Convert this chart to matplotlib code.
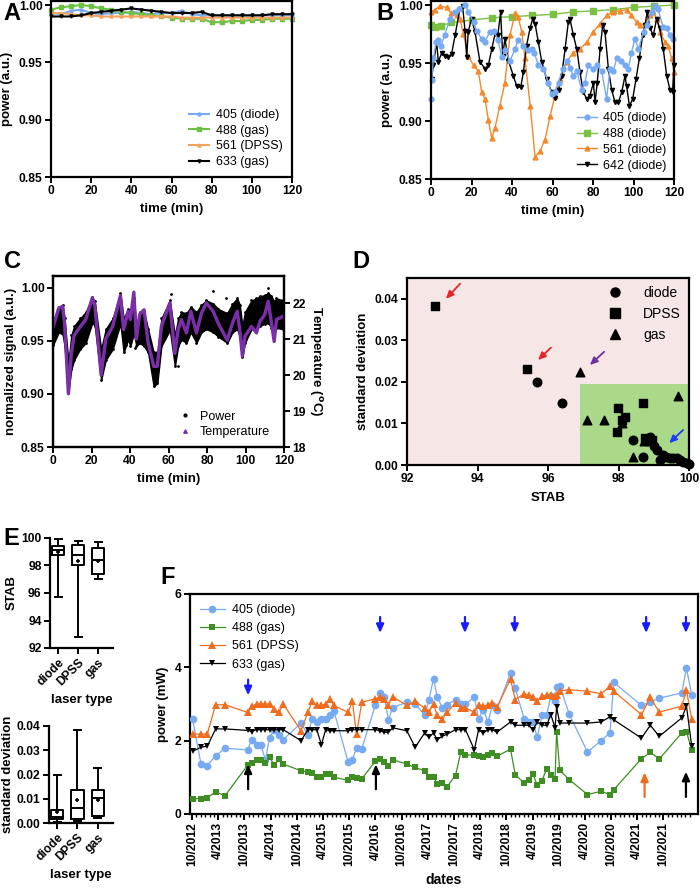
import matplotlib
matplotlib.use("Agg")
import matplotlib.pyplot as plt
from matplotlib.lines import Line2D
from matplotlib.patches import Rectangle
from matplotlib.ticker import FormatStrFormatter, FixedLocator

plt.rcParams['font.family'] = ['Liberation Sans', 'DejaVu Sans']
plt.rcParams['font.weight'] = 'bold'
plt.rcParams['axes.labelweight'] = 'bold'
plt.rcParams['axes.linewidth'] = 1.6
for a in ('xtick', 'ytick'):
    plt.rcParams[a + '.major.width'] = 1.4
    plt.rcParams[a + '.major.size'] = 4
    plt.rcParams[a + '.minor.width'] = 1.0
    plt.rcParams[a + '.minor.size'] = 2.5
    plt.rcParams[a + '.labelsize'] = 8.7
    plt.rcParams[a + '.major.pad'] = 2

# ---------------- Panel A data ----------------
tA = [0, 5, 10, 15, 20, 25, 30, 35, 40, 45, 50, 55, 60, 65, 70, 75, 80, 85, 90, 95, 100, 105, 110, 115, 120]
A_405 = [0.993, 0.992, 0.995, 0.996, 0.993, 0.992, 0.993, 0.993, 0.994, 0.993, 0.992, 0.993, 0.993, 0.995, 0.992,
         0.991, 0.991, 0.991, 0.991, 0.991, 0.991, 0.991, 0.991, 0.991, 0.991]
A_488 = [0.996, 0.998, 0.999, 1.000, 0.999, 0.997, 0.996, 0.994, 0.993, 0.992, 0.991, 0.990, 0.989, 0.988, 0.988,
         0.988, 0.985, 0.985, 0.986, 0.986, 0.987, 0.987, 0.988, 0.988, 0.988]
A_561 = [0.993, 0.993, 0.992, 0.991, 0.991, 0.990, 0.990, 0.990, 0.990, 0.990, 0.990, 0.990, 0.990, 0.989, 0.989,
         0.989, 0.989, 0.989, 0.989, 0.989, 0.989, 0.989, 0.989, 0.989, 0.989]
A_633 = [0.990, 0.990, 0.990, 0.991, 0.993, 0.994, 0.995, 0.996, 0.997, 0.996, 0.995, 0.994, 0.993, 0.993, 0.993,
         0.994, 0.991, 0.991, 0.991, 0.991, 0.991, 0.991, 0.992, 0.992, 0.992]
A_labels = ['405 (diode)', '488 (gas)', '561 (DPSS)', '633 (gas)']

# ---------------- Panel B data ----------------
tB_405 = [0, 0.3, 1.2, 2.5, 3.6, 5, 6.7, 9.4, 12, 14, 17, 18.4, 21, 22.5, 25, 26.6, 29, 31, 33, 35, 36.5, 39, 41.5,
          43, 45.6, 48, 49.7, 51, 53, 55.5, 58, 59.6, 61, 63, 65, 67, 68.6, 70.3, 72, 74.4, 76, 77.7, 80, 82, 84.3,
          86.7, 88.4, 90, 91.7, 94, 96, 97.4, 99, 100.7, 102.4, 105, 106.5, 109, 110.6, 112, 114.7, 116.4, 118, 119.7]
pB_405 = [0.919, 0.935, 0.954, 0.968, 0.970, 0.965, 0.974, 0.988, 0.994, 0.997, 1.000, 0.994, 0.985, 0.978, 0.971,
          0.968, 0.977, 0.978, 0.970, 0.955, 0.961, 0.952, 0.962, 0.970, 0.965, 0.961, 0.962, 0.959, 0.948, 0.945,
          0.933, 0.923, 0.925, 0.933, 0.945, 0.952, 0.946, 0.939, 0.943, 0.927, 0.933, 0.948, 0.945, 0.948, 0.943,
          0.919, 0.945, 0.943, 0.954, 0.952, 0.948, 0.945, 0.959, 0.971, 0.962, 0.977, 0.983, 0.994, 0.999, 0.997,
          0.981, 0.980, 0.974, 0.971]
tB_488 = [0, 2, 5, 10, 20, 30, 40, 50, 60, 70, 80, 90, 100, 110, 120]
pB_488 = [0.983, 0.981, 0.982, 0.985, 0.987, 0.989, 0.990, 0.991, 0.992, 0.994, 0.995, 0.996, 0.998, 0.999, 1.000]
tB_561 = [0, 2, 4.4, 7.7, 10, 12.7, 14.3, 16, 18.4, 21, 23.4, 25, 26.7, 28.3, 30, 31.6, 34, 36.5, 39, 41.5, 43,
          44.8, 46.4, 49, 51.4, 53.8, 56.3, 58.8, 61.2, 63.7, 67, 70.3, 73.6, 76.9, 80.2, 83.5, 86.7, 90, 93.3,
          96.6, 99, 101.6, 103.2, 105.7, 108, 109.8, 111.4, 113, 115.6, 117.2, 118.8, 120]
pB_561 = [0.994, 0.996, 0.999, 0.998, 0.993, 0.991, 0.988, 0.975, 0.956, 0.948, 0.943, 0.925, 0.919, 0.901, 0.885,
          0.894, 0.913, 0.933, 0.974, 0.993, 0.990, 0.977, 0.954, 0.913, 0.869, 0.874, 0.884, 0.904, 0.922, 0.936,
          0.951, 0.959, 0.962, 0.968, 0.977, 0.984, 0.991, 0.994, 0.995, 0.996, 0.991, 0.985, 0.983, 0.984, 0.991,
          0.994, 0.988, 0.977, 0.968, 0.965, 0.954, 0.942]
tB_642 = [0.3, 1.1, 2.8, 3.6, 5.3, 6.9, 8.6, 10.2, 11.9, 14.3, 15.6, 16.8, 17.6, 18.4, 20, 21.7, 24.2, 26.7, 28.3,
          30, 31.6, 33, 34.4, 35.4, 36.5, 38.2, 40.7, 42.3, 44.3, 45.6, 47.2, 48.9, 50.2, 51.4, 53, 54.7, 57.1,
          59.6, 61.2, 63, 64.5, 66.2, 67.8, 68.6, 70.3, 72, 73.6, 75.2, 76.9, 78.5, 80.2, 81, 82.1, 83.5, 84.8,
          85.9, 87.6, 89.2, 90.9, 92.5, 94.2, 95.8, 96.6, 98, 99.6, 101.2, 102.9, 104.5, 105.7, 106.8, 108.1,
          109.8, 111.4, 113, 114.7, 116.4, 118, 119.3, 120]
pB_642 = [0.936, 0.948, 0.968, 0.951, 0.959, 0.956, 0.955, 0.958, 0.974, 0.997, 0.999, 0.978, 0.955, 0.977, 0.988,
          0.977, 0.951, 0.945, 0.948, 0.962, 0.975, 0.974, 0.994, 0.956, 0.971, 0.952, 0.939, 0.930, 0.929, 0.942,
          0.965, 0.980, 0.988, 0.984, 0.968, 0.951, 0.936, 0.925, 0.920, 0.927, 0.939, 0.962, 0.985, 0.988, 0.974,
          0.962, 0.942, 0.925, 0.919, 0.922, 0.933, 0.916, 0.933, 0.962, 0.983, 0.977, 0.945, 0.927, 0.916, 0.916,
          0.925, 0.939, 0.930, 0.913, 0.919, 0.936, 0.954, 0.974, 0.983, 0.994, 0.980, 0.974, 0.988, 0.980, 0.962,
          0.939, 0.927, 0.925, 0.948]
B_labels = ['405 (diode)', '488 (diode)', '561 (diode)', '642 (diode)']

# ---------------- Panel C data ----------------
tC = [0, 3, 5, 6, 8, 9.5, 11, 14, 17, 20.4, 21.7, 25, 27.4, 31, 35, 36.7, 39, 40.2, 42, 43.3, 45, 47.3, 49.4,
      52.3, 54.2, 56.3, 60.7, 63.3, 65, 66.7, 69.3, 71.6, 74.5, 77.1, 79.7, 83.2, 85.8, 90.5, 93.2, 95.7, 97,
      98.4, 99.7, 103.1, 105.7, 107.5, 110, 111.8, 113.5, 114.9, 116.1, 119.6]
tempC = [21.33, 21.86, 21.9, 21.44, 19.48, 20.6, 21.1, 21.33, 21.54, 22.14, 21.95, 20.0, 21.0, 21.35, 22.2, 21.26,
         21.77, 21.54, 22.3, 21.0, 21.68, 21.81, 20.9, 20.24, 20.24, 21.35, 22.0, 20.6, 21.26, 21.54, 21.17, 21.77,
         21.17, 21.72, 22.0, 21.77, 21.44, 20.97, 21.44, 21.77, 21.26, 20.52, 21.07, 21.35, 21.17, 21.49, 21.68,
         22.05, 21.44, 20.93, 21.54, 21.63]
powerC_hi = [0.968, 0.982, 0.984, 0.971, 0.930, 0.955, 0.964, 0.971, 0.977, 0.991, 0.987, 0.942, 0.961, 0.971,
             0.995, 0.971, 0.980, 0.977, 0.990, 0.964, 0.977, 0.977, 0.961, 0.939, 0.939, 0.971, 0.988, 0.955,
             0.971, 0.977, 0.976, 0.982, 0.977, 0.984, 0.988, 0.985, 0.980, 0.976, 0.985, 0.990, 0.984, 0.964,
             0.977, 0.988, 0.990, 0.992, 0.993, 0.995, 0.992, 0.987, 0.990, 0.988]
powerC_lo = [0.946, 0.958, 0.956, 0.945, 0.902, 0.923, 0.932, 0.942, 0.948, 0.967, 0.964, 0.913, 0.932, 0.942,
             0.966, 0.939, 0.951, 0.945, 0.957, 0.945, 0.948, 0.945, 0.939, 0.907, 0.910, 0.945, 0.960, 0.926,
             0.945, 0.951, 0.948, 0.958, 0.948, 0.958, 0.961, 0.958, 0.954, 0.948, 0.958, 0.961, 0.954, 0.935,
             0.948, 0.961, 0.962, 0.964, 0.966, 0.967, 0.962, 0.958, 0.962, 0.961]
outC_t = [61.5, 83.2, 111.8, 53.4, 65.0, 49.4, 42.5, 38.0, 20.0, 90.0]
outC_p = [0.994, 0.997, 1.000, 0.920, 0.926, 0.943, 0.943, 0.946, 0.985, 0.990]

# ---------------- Panel D data ----------------
D_diode_stab = [95.7, 96.4, 98.4, 98.7, 98.8, 98.84, 98.9, 99.0, 99.1, 99.18, 99.27, 99.35, 99.46, 99.55, 99.65,
                99.75, 99.84, 99.94, 100.0]
D_diode_sd = [0.0200, 0.0150, 0.0060, 0.0020, 0.0057, 0.0063, 0.0068, 0.0045, 0.0036, 0.0012, 0.0024, 0.0020,
              0.0017, 0.0016, 0.0017, 0.0012, 0.0008, 0.0004, 0.0002]
D_dpss_stab = [92.8, 95.4, 97.99, 98.7, 98.18, 98.1, 97.96, 98.75, 98.95]
D_dpss_sd = [0.0383, 0.0231, 0.0137, 0.0149, 0.0116, 0.0108, 0.0079, 0.0065, 0.0060]
D_gas_stab = [96.9, 97.1, 97.6, 99.7, 98.1, 98.4, 98.72]
D_gas_sd = [0.0223, 0.0108, 0.0108, 0.0166, 0.0101, 0.0020, 0.0058]

# ---------------- Panel E data ----------------
E_types = ['diode', 'DPSS', 'gas']
E_stab_lo = [95.7, 92.8, 97.0]
E_stab_q1 = [98.8, 98.0, 97.4]
E_stab_med = [99.1, 98.8, 98.4]
E_stab_q3 = [99.4, 99.5, 99.3]
E_stab_hi = [99.9, 99.8, 99.7]
E_stab_mean = [99.0, 98.3, 98.3]
E_sd_lo = [0.0003, 0.0010, 0.0020]
E_sd_q1 = [0.0015, 0.0015, 0.0030]
E_sd_med = [0.0025, 0.0060, 0.0105]
E_sd_q3 = [0.0055, 0.0138, 0.0137]
E_sd_hi = [0.0200, 0.0383, 0.0225]
E_sd_mean = [0.0045, 0.0095, 0.0095]

# ---------------- Panel F data ----------------
F_dates = [2012.76, 2012.92, 2013.04, 2013.20, 2013.38, 2013.81, 2013.89, 2013.98, 2014.06, 2014.15,
           2014.23, 2014.32, 2014.41, 2014.49, 2014.83, 2014.96, 2015.04, 2015.13, 2015.22, 2015.30,
           2015.38, 2015.46, 2015.73, 2015.81, 2015.89, 2015.99, 2016.25, 2016.33, 2016.42, 2016.50,
           2016.58, 2016.85, 2017.01, 2017.19, 2017.27, 2017.36, 2017.43, 2017.53, 2017.62, 2017.78,
           2017.88, 2017.97, 2018.14, 2018.22, 2018.31, 2018.40, 2018.48, 2018.57, 2018.83, 2018.92,
           2019.09, 2019.18, 2019.26, 2019.34, 2019.43, 2019.52, 2019.60, 2019.68, 2019.71, 2019.77,
           2019.95, 2020.30, 2020.56, 2020.73, 2020.80, 2021.33, 2021.50, 2021.67, 2022.10, 2022.19, 2022.29]
F_405 = [2.59, 1.36, 1.32, 1.59, 1.79, 1.75, 2.03, 1.89, 1.89, 1.48, 2.07, 2.30, 2.16, 2.03, 2.48, 2.16, 2.60,
         2.50, 2.60, 2.60, 2.70, 2.80, 1.41, 1.48, 1.80, 1.78, 2.97, 3.30, 3.20, 2.57, 2.90, 3.05, 3.00, 2.70,
         3.10, 3.69, 3.20, 2.89, 2.98, 3.12, 3.00, 3.00, 3.19, 2.59, 2.85, 2.50, 2.96, 2.85, 3.85, 3.43, 2.60,
         2.51, 2.50, 2.09, 2.69, 2.71, 3.21, 3.07, 3.46, 3.50, 2.73, 1.69, 2.00, 2.21, 3.59, 2.96, 3.05, 3.16,
         3.30, 3.98, 3.24]
F_488 = [0.42, 0.42, 0.45, 0.60, 0.50, 1.33, 1.39, 1.48, 1.48, 1.39, 1.55, 1.33, 1.50, 1.36, 1.18, 1.15, 1.12,
         1.00, 1.00, 1.09, 1.09, 1.00, 0.92, 1.00, 0.98, 0.96, 1.44, 1.50, 1.41, 1.30, 1.48, 1.36, 1.27, 1.18,
         1.01, 1.01, 0.83, 0.85, 0.75, 1.05, 1.68, 1.60, 1.62, 1.59, 1.55, 1.60, 1.66, 1.57, 1.77, 1.07, 0.85,
         0.92, 1.09, 0.78, 0.91, 1.23, 1.07, 0.96, 2.24, 1.19, 0.94, 0.53, 0.62, 0.53, 0.66, 1.51, 1.68, 1.50,
         2.21, 2.25, 1.74]
F_561 = [2.18, 2.18, 2.18, 2.98, 2.98, 2.77, 2.94, 3.00, 3.00, 3.00, 3.00, 2.87, 2.77, 3.00, 2.27, 2.77, 3.07,
         2.96, 2.96, 3.00, 3.14, 2.96, 2.77, 3.07, 2.18, 3.05, 3.14, 3.18, 3.15, 2.98, 3.20, 2.96, 3.07, 2.89,
         2.77, 3.00, 2.69, 2.60, 2.77, 3.03, 2.89, 2.89, 2.78, 2.98, 2.94, 2.98, 3.03, 2.91, 3.68, 3.12, 3.28,
         3.24, 3.19, 3.09, 3.21, 3.24, 3.25, 3.21, 3.25, 3.36, 3.39, 3.35, 3.28, 3.48, 3.35, 2.71, 3.18, 2.78,
         2.94, 3.37, 2.59]
F_633 = [1.71, 1.82, 1.85, 2.32, 2.32, 2.28, 2.25, 2.30, 2.30, 2.30, 2.30, 2.30, 2.30, 2.30, 2.00, 2.30, 2.30,
         2.30, 1.89, 2.30, 2.27, 2.27, 2.27, 2.30, 2.30, 2.30, 2.30, 2.27, 2.23, 2.23, 2.35, 2.27, 1.82, 2.21,
         2.09, 2.21, 2.03, 2.12, 2.18, 2.30, 2.30, 2.30, 1.75, 2.30, 2.21, 2.30, 2.30, 2.23, 2.51, 2.42, 2.42,
         2.42, 2.30, 2.50, 2.42, 2.42, 2.71, 2.35, 2.91, 2.48, 2.48, 2.48, 2.51, 2.65, 2.57, 2.07, 2.42, 2.12,
         2.62, 2.94, 1.85]
F_labels = ['405 (diode)', '488 (gas)', '561 (DPSS)', '633 (gas)']
F_tick_labels = ['10/2012', '4/2013', '10/2013', '4/2014', '10/2014', '4/2015', '10/2015', '4/2016', '10/2016',
                 '4/2017', '10/2017', '4/2018', '10/2018', '4/2019', '10/2019', '4/2020', '10/2020', '4/2021',
                 '10/2021']
F_tick_pos = [2012.75, 2013.25, 2013.75, 2014.25, 2014.75, 2015.25, 2015.75, 2016.25, 2016.75, 2017.25, 2017.75,
              2018.25, 2018.75, 2019.25, 2019.75, 2020.25, 2020.75, 2021.25, 2021.75]
F_blue_arrows = [2013.82, 2016.34, 2017.96, 2018.91, 2021.42, 2022.18]
F_black_arrows = [2013.82, 2016.26, 2022.18]
F_orange_arrows = [2021.39]

# ================= drawing =================
W, H = 700, 889
fig = plt.figure(figsize=(7, 8.89), dpi=100)


def add_ax(x0, y0, x1, y1):
    return fig.add_axes([x0 / W, 1 - y1 / H, (x1 - x0) / W, (y1 - y0) / H])


LAB = 9.5
LEG = {'weight': 'normal', 'size': 9}
c_blue, c_green, c_orange = '#77aaf3', '#6cc044', '#f39a4c'

# ---- A ----
axA = add_ax(51, 1, 292, 177)
for vals, col, mk in [(A_405, c_blue, 'o'), (A_488, c_green, 's'), (A_561, '#f5a25e', '^'), (A_633, 'black', 'v')]:
    axA.plot(tA, vals, color=col, marker=mk, ms=2.2, lw=1.5, clip_on=False)
axA.set_xlim(0, 120)
axA.set_ylim(0.85, 1.0035)
axA.set_yticks([0.85, 0.90, 0.95, 1.00])
axA.set_xticks(range(0, 121, 20))
axA.yaxis.set_major_formatter(FormatStrFormatter('%.2f'))
axA.set_xlabel('time (min)', fontsize=LAB, labelpad=4)
axA.set_ylabel('power (a.u.)', fontsize=LAB, labelpad=4)
axA.legend(A_labels, loc='lower right', frameon=False, prop=LEG, handlelength=1.6, labelspacing=0.3,
           borderaxespad=0.3, handletextpad=0.6)

# ---- B ----
axB = add_ax(431, 1, 674, 179)
axB.plot(tB_488, pB_488, color='#7ac143', marker='s', ms=4, lw=1, clip_on=False)
axB.plot(tB_561, pB_561, color='#f08a2c', marker='^', ms=3.5, lw=1, clip_on=False)
axB.plot(tB_642, pB_642, color='black', marker='v', ms=3, lw=1, clip_on=False)
axB.plot(tB_405, pB_405, color=c_blue, marker='o', ms=3.5, lw=1, clip_on=False)
axB.set_xlim(0, 120)
axB.set_ylim(0.85, 1.0035)
axB.set_yticks([0.85, 0.90, 0.95, 1.00])
axB.set_xticks(range(0, 121, 20))
axB.yaxis.set_major_formatter(FormatStrFormatter('%.2f'))
axB.set_xlabel('time (min)', fontsize=LAB, labelpad=4)
axB.set_ylabel('power (a.u.)', fontsize=LAB, labelpad=4)
hB = [Line2D([], [], color=c_blue, marker='o', ms=3.5, lw=1),
      Line2D([], [], color='#7ac143', marker='s', ms=4, lw=1),
      Line2D([], [], color='#f08a2c', marker='^', ms=3.5, lw=1),
      Line2D([], [], color='black', marker='v', ms=3, lw=1)]
axB.legend(hB, B_labels, loc='lower right', frameon=False, prop=LEG, handlelength=1.6, labelspacing=0.3,
           borderaxespad=0.2, handletextpad=0.5)

# ---- C ----
axC = add_ax(53, 276, 284, 447)
axC.fill_between(tC, powerC_lo, powerC_hi, color='black', lw=1.0)
axC.scatter(tC, powerC_hi, s=4, color='black', lw=0)
axC.scatter(tC, powerC_lo, s=4, color='black', lw=0)
axC.scatter(outC_t, outC_p, s=4, color='black', lw=0)
axC.set_xlim(0, 120)
axC.set_ylim(0.85, 1.011)
axC.set_yticks([0.85, 0.90, 0.95, 1.00])
axC.set_xticks(range(0, 121, 20))
axC.yaxis.set_major_formatter(FormatStrFormatter('%.2f'))
axC.set_xlabel('time (min)', fontsize=LAB, labelpad=4)
axC.set_ylabel('normalized signal (a.u.)', fontsize=LAB, labelpad=3)
axC2 = axC.twinx()
axC2.plot(tC, tempC, color='#7a2fa8', lw=2.4)
axC2.set_ylim(18, 22.75)
axC2.set_yticks([18, 19, 20, 21, 22])
axC2.set_ylabel(r'Temperature ($^{\mathbf{o}}$C)', fontsize=LAB, rotation=-90, labelpad=13)
hC = [Line2D([], [], color='black', marker='o', ms=2, ls='none'),
      Line2D([], [], color='#7a2fa8', marker='^', ms=2.5, ls='none')]
axC.legend(hC, ['Power', 'Temperature'], loc='lower left', bbox_to_anchor=(0.5, 0.0), frameon=False,
           prop=LEG, handlelength=1.2, labelspacing=0.3, handletextpad=0.6, borderaxespad=0.3)

# ---- D ----
axD = add_ax(407, 278, 689, 465)
axD.set_facecolor('#f6e6e5')
axD.add_patch(Rectangle((96.9, 0), 3.1, 0.0195, facecolor='#aad98a', edgecolor='none', zorder=0.5))
axD.scatter(D_diode_stab, D_diode_sd, marker='o', s=38, color='black', zorder=3, clip_on=False)
axD.scatter(D_dpss_stab, D_dpss_sd, marker='s', s=36, color='black', zorder=3, clip_on=False)
axD.scatter(D_gas_stab, D_gas_sd, marker='^', s=38, color='black', zorder=3, clip_on=False)
axD.set_xlim(92, 100)
axD.set_ylim(0, 0.045)
axD.set_xticks([92, 94, 96, 98, 100])
axD.set_yticks([0, 0.01, 0.02, 0.03, 0.04])
axD.yaxis.set_major_formatter(FormatStrFormatter('%.2f'))
axD.set_xlabel('STAB', fontsize=LAB, labelpad=5)
axD.set_ylabel('standard deviation', fontsize=LAB, labelpad=4)
hD = [Line2D([], [], color='black', marker=m, ms=6.5, ls='none') for m in ('o', 's', '^')]
axD.legend(hD, ['diode', 'DPSS', 'gas'], loc='upper right', frameon=False, prop={'weight': 'normal', 'size': 10},
           labelspacing=0.5, handletextpad=1.0, borderaxespad=0.2)
for (x0, y0, x1, y1, col) in [(93.56, 0.0441, 93.05, 0.0395, '#e8222a'),
                              (96.14, 0.0287, 95.66, 0.0248, '#e8222a'),
                              (97.65, 0.0277, 97.13, 0.0236, '#7030a0'),
                              (99.89, 0.0089, 99.38, 0.0048, '#1a3cff')]:
    axD.annotate('', xy=(x1, y1), xytext=(x0, y0),
                 arrowprops=dict(arrowstyle='-|>,head_length=0.45,head_width=0.2', color=col, lw=1.3))


# ---- E ----
def box_panel(ax, lo, q1, med, q3, hi, mean):
    stats = []
    for i in range(3):
        stats.append(dict(whislo=lo[i], q1=q1[i], med=med[i], q3=q3[i], whishi=hi[i], mean=mean[i],
                          fliers=[], label=E_types[i]))
    ax.bxp(stats, positions=[0, 1, 2], widths=0.6, showmeans=True, showfliers=False,
           boxprops=dict(color='black', lw=1.4), whiskerprops=dict(color='black', lw=1.4),
           capprops=dict(color='black', lw=1.4), medianprops=dict(color='black', lw=1.4),
           meanprops=dict(marker='+', markeredgecolor='black', markersize=3.5, markeredgewidth=1.2),
           capwidths=0.35)
    ax.set_xlim(-0.4, 2.75)
    for s in ('top', 'right'):
        ax.spines[s].set_visible(False)
    ax.set_xticks([0, 1, 2])
    ax.set_xticklabels(E_types, rotation=45, ha='right', rotation_mode='anchor')
    ax.set_xlabel('laser type', fontsize=LAB, labelpad=4)


axE1 = add_ax(50, 538, 113, 648)
box_panel(axE1, E_stab_lo, E_stab_q1, E_stab_med, E_stab_q3, E_stab_hi, E_stab_mean)
axE1.set_ylim(92, 100)
axE1.set_yticks([92, 94, 96, 98, 100])
axE1.set_ylabel('STAB', fontsize=LAB, labelpad=3)

axE2 = add_ax(49, 726, 113, 823)
box_panel(axE2, E_sd_lo, E_sd_q1, E_sd_med, E_sd_q3, E_sd_hi, E_sd_mean)
axE2.set_ylim(0, 0.04)
axE2.set_yticks([0, 0.01, 0.02, 0.03, 0.04])
axE2.yaxis.set_major_formatter(FormatStrFormatter('%.2f'))
axE2.set_ylabel('standard deviation', fontsize=LAB, labelpad=2)

# ---- F ----
axF = add_ax(190, 594, 698, 814)
fb, fg, fo = '#78aaf2', '#3e8e24', '#f06c1e'
axF.plot(F_dates, F_405, color=fb, marker='o', ms=5.5, lw=0.9, mew=0, label=F_labels[0], zorder=3)
axF.plot(F_dates, F_488, color=fg, marker='s', ms=5, lw=0.9, mew=0, label=F_labels[1], zorder=3)
axF.plot(F_dates, F_561, color=fo, marker='^', ms=5.5, lw=0.9, mew=0, label=F_labels[2], zorder=3)
axF.plot(F_dates, F_633, color='black', marker='v', ms=5, lw=0.9, mew=0, label=F_labels[3], zorder=3)
axF.set_xlim(2012.71, 2022.41)
axF.set_ylim(0, 6)
axF.set_yticks([0, 2, 4, 6])
axF.set_xticks(F_tick_pos)
axF.set_xticklabels(F_tick_labels, rotation=90)
minor = [2012.75 + k / 12 for k in range(0, 115)]
axF.xaxis.set_minor_locator(FixedLocator(minor))
axF.set_xlabel('dates', fontsize=10, labelpad=5)
axF.set_ylabel('power (mW)', fontsize=LAB, labelpad=4)
axF.legend(loc='upper left', frameon=False, prop=LEG, handlelength=2.0, labelspacing=0.5, borderaxespad=0.4,
           handletextpad=0.6)
ap = dict(arrowstyle='-|>,head_length=0.5,head_width=0.22', lw=1.6)
for x in F_blue_arrows:
    y0, y1 = (5.45, 4.86) if x > 2015 else (3.74, 3.16)
    axF.annotate('', xy=(x, y1), xytext=(x, y0), arrowprops=dict(color='#1a1aff', **ap))
for x in F_black_arrows:
    y0, y1 = (0.39, 1.23) if x > 2021 else (0.6, 1.43)
    axF.annotate('', xy=(x, y1), xytext=(x, y0), arrowprops=dict(color='black', **ap))
for x in F_orange_arrows:
    axF.annotate('', xy=(x, 1.21), xytext=(x, 0.39), arrowprops=dict(color=fo, **ap))

# ---- panel letters ----
for lab, x, y in [('A', 3, 20), ('B', 376, 20), ('C', 4, 268), ('D', 352, 268), ('E', 3, 545), ('F', 160, 584)]:
    fig.text(x / W, 1 - y / H, lab, fontsize=17, fontweight='bold')

fig.savefig('out.png', dpi=100)
